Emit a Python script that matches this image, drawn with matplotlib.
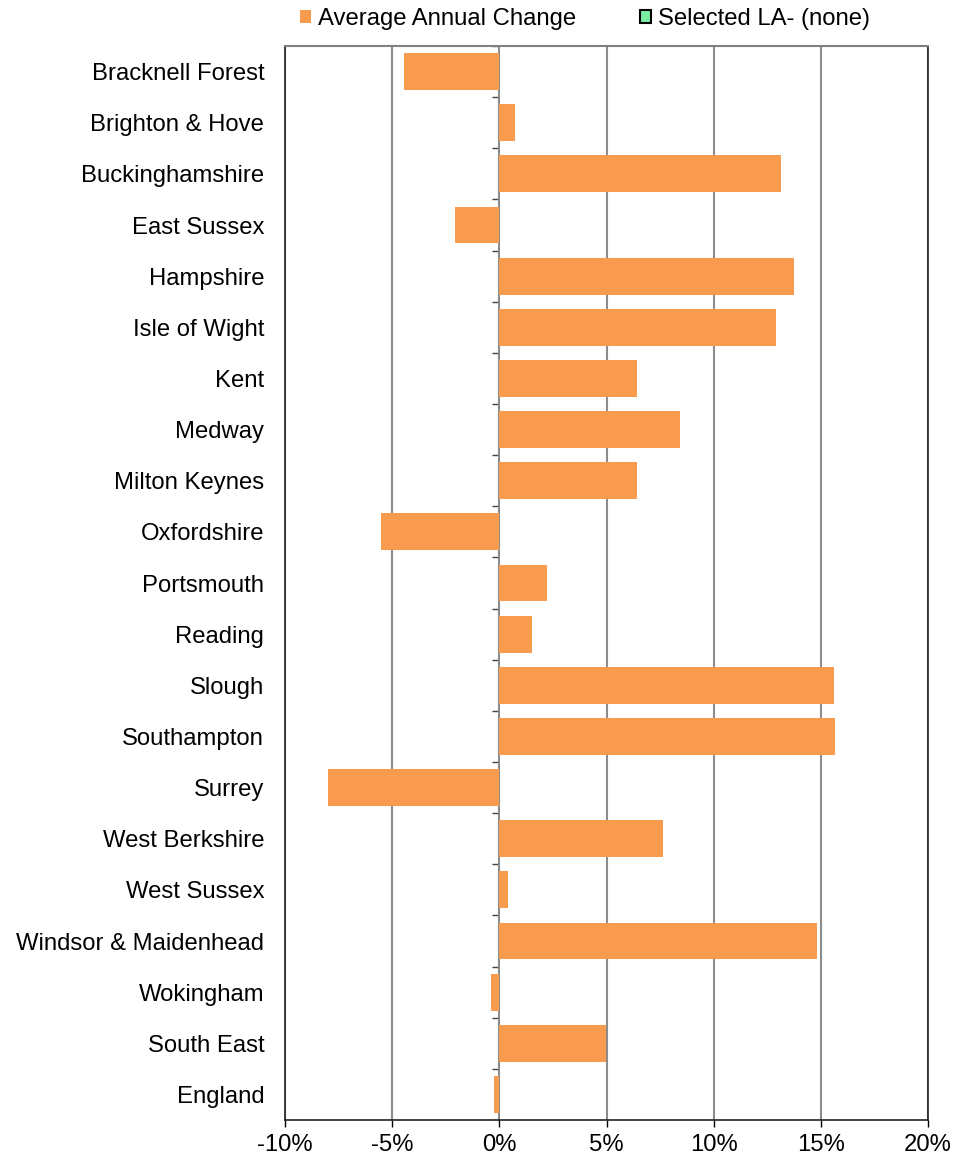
import matplotlib.pyplot as plt
from matplotlib.patches import Patch
from matplotlib.ticker import FuncFormatter, MultipleLocator, FixedLocator

areas = ['Bracknell Forest', 'Brighton & Hove', 'Buckinghamshire', 'East Sussex',
         'Hampshire', 'Isle of Wight', 'Kent', 'Medway', 'Milton Keynes',
         'Oxfordshire', 'Portsmouth', 'Reading', 'Slough', 'Southampton',
         'Surrey', 'West Berkshire', 'West Sussex', 'Windsor & Maidenhead',
         'Wokingham', 'South East', 'England']
change = [-4.43, 0.75, 13.15, -2.05, 13.76, 12.92, 6.44, 8.44, 6.44, -5.5,
          2.24, 1.54, 15.63, 15.67, -7.98, 7.65, 0.42, 14.83, -0.37, 4.99, -0.23]

ORANGE = '#F99B4E'
GREEN = '#7CF0A0'
FS = 17.2

plt.rcParams['font.family'] = ['Liberation Sans', 'DejaVu Sans']

fig = plt.figure(figsize=(9.55, 11.64), dpi=100)
ax = fig.add_axes([285 / 955, 1 - 1120 / 1164, (928 - 285) / 955, (1120 - 46) / 1164])

pos = list(range(len(areas)))
ax.barh(pos, change, height=0.72, color=ORANGE, zorder=3)

ax.set_xlim(-10, 20)
ax.set_ylim(len(areas) - 0.5, -0.5)
ax.xaxis.set_major_locator(MultipleLocator(5))
ax.xaxis.set_major_formatter(FuncFormatter(lambda v, p: f'{v:.0f}%'))
ax.grid(axis='x', color='#8c8c8c', linewidth=1.5, zorder=0)

ax.set_yticks(pos)
ax.set_yticklabels(areas)
ax.tick_params(axis='y', length=0, pad=15, labelsize=FS)
ax.tick_params(axis='x', length=5, width=1, direction='out', pad=5, labelsize=FS)

for s in ['left', 'bottom', 'right']:
    ax.spines[s].set_color('#222222')
    ax.spines[s].set_linewidth(1.2)
ax.spines['top'].set_color('#808080')
ax.spines['top'].set_linewidth(1.5)

# zero axis with category boundary ticks
sec = ax.secondary_yaxis(1 / 3)
sec.yaxis.set_major_locator(FixedLocator([p + 0.5 for p in pos[:-1]] + [-0.5]))
sec.tick_params(axis='y', length=5, width=1, color='#444444', labelleft=False)
sec.spines['left'].set_color('black')
sec.spines['left'].set_linewidth(1.2)

handles = [Patch(facecolor=ORANGE, edgecolor='none', label='Average Annual Change'),
           Patch(facecolor=GREEN, edgecolor='black', linewidth=1.5, label='Selected LA- (none)')]
fig.legend(handles=handles, loc='center', bbox_to_anchor=(585 / 955, 1 - 19 / 1164),
           ncol=2, frameon=False, fontsize=FS, handlelength=0.46, handleheight=0.46,
           handletextpad=0.3, columnspacing=2.7, borderpad=0)

fig.savefig('out.png', dpi=100)
